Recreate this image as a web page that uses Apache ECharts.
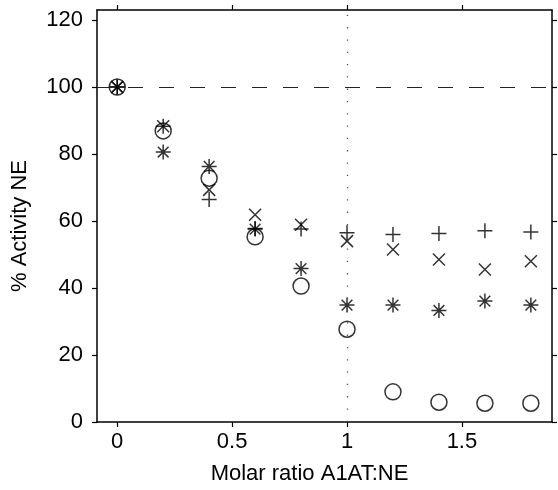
<!DOCTYPE html>
<html>
<head>
<meta charset="utf-8">
<script src="https://cdn.jsdelivr.net/npm/echarts@6/dist/echarts.min.js"></script>
<style>
  html, body { margin: 0; padding: 0; background: #fff; }
  #chart { width: 558px; height: 490px; }
</style>
</head>
<body>
<div id="chart"></div>
<script>
// Molar ratio of A1AT to NE for each measurement
const molarRatio = [0, 0.2, 0.4, 0.6, 0.8, 1.0, 1.2, 1.4, 1.6, 1.8];

// % residual NE activity, one array per condition (marker)
const plusSeries   = [100, 88.3, 66.4, 57.8, 57.6, 56.5, 56.0, 56.3, 57.1, 56.7];
const crossSeries  = [100, 88.3, 69.3, 61.9, 58.9, 54.0, 51.5, 48.5, 45.5, 48.0];
const starSeries   = [100, 80.6, 76.3, 57.6, 45.8, 34.9, 34.9, 33.3, 36.1, 34.9];
const circleSeries = [100, 86.9, 72.8, 55.3, 40.6, 27.7, 9.0, 5.9, 5.6, 5.6];

// Tick positions / labels
const xTicks = [0, 0.5, 1, 1.5];
const yTicks = [0, 20, 40, 60, 80, 100, 120];

// Reference lines: full activity and equimolar ratio
const fullActivity = 100;
const equimolar = 1;

const FONT = 'Liberation Sans, Arial, sans-serif';

function pairs(ys) {
  return molarRatio.map((x, i) => [x, ys[i]]);
}

const markerStyle = {
  color: 'none',
  borderColor: '#000',
  borderWidth: 1.5
};

const axisLineStyle = { color: '#000', width: 1.5 };

const baseAxisX = {
  type: 'value',
  min: -0.088,
  max: 1.892,
  splitLine: { show: false },
  axisLine: { show: true, onZero: false, lineStyle: axisLineStyle },
  axisTick: { show: true, inside: false, length: 5, customValues: xTicks, lineStyle: { color: '#000', width: 1.2 } }
};
const baseAxisY = {
  type: 'value',
  min: 0,
  max: 123,
  interval: 20,
  splitLine: { show: false },
  axisLine: { show: true, onZero: false, lineStyle: axisLineStyle },
  axisTick: { show: true, inside: false, length: 5, customValues: yTicks, lineStyle: { color: '#000', width: 1.2 } }
};

const chart = echarts.init(document.getElementById('chart'), null, { renderer: 'canvas' });

chart.setOption({
  animation: false,
  backgroundColor: '#fff',
  grid: { left: 97, right: 6, top: 10, bottom: 67, containLabel: false },
  xAxis: [
    Object.assign({}, baseAxisX, {
      position: 'bottom',
      name: 'Molar ratio A1AT:NE',
      nameLocation: 'middle',
      nameGap: 41,
      nameTextStyle: { fontFamily: FONT, fontSize: 22, color: '#000', padding: [0, 30, 0, 0] },
      axisLabel: {
        show: true, customValues: xTicks, margin: 9,
        fontFamily: FONT, fontSize: 22, color: '#000',
        formatter: v => String(v)
      }
    }),
    Object.assign({}, baseAxisX, {
      position: 'top',
      axisLabel: { show: false }
    })
  ],
  yAxis: [
    Object.assign({}, baseAxisY, {
      position: 'left',
      name: '% Activity NE',
      nameLocation: 'middle',
      nameGap: 66,
      nameTextStyle: { fontFamily: FONT, fontSize: 22, color: '#000', padding: [0, 20, 0, 0] },
      axisLabel: {
        show: true, customValues: yTicks, margin: 14,
        fontFamily: FONT, fontSize: 22, color: '#000'
      }
    }),
    Object.assign({}, baseAxisY, {
      position: 'right',
      axisLabel: { show: false }
    })
  ],
  series: [
    {
      name: 'circle',
      type: 'scatter',
      data: pairs(circleSeries),
      symbol: 'circle',
      symbolSize: 16,
      itemStyle: markerStyle,
      silent: true,
      z: 3,
      markLine: {
        silent: true,
        symbol: 'none',
        label: { show: false },
        data: [
          { yAxis: fullActivity, lineStyle: { color: '#222', width: 1.2, type: [15, 16] } },
          { xAxis: equimolar, lineStyle: { color: '#555', width: 1.3, type: [1.3, 11] } }
        ]
      }
    },
    {
      name: 'star',
      type: 'scatter',
      data: pairs(starSeries),
      symbol: 'path://M0,-7L0,7M-7,0L7,0M-5,-5L5,5M-5,5L5,-5',
      symbolSize: 15,
      itemStyle: markerStyle,
      silent: true,
      z: 4
    },
    {
      name: 'cross',
      type: 'scatter',
      data: pairs(crossSeries),
      symbol: 'path://M-5,-5L5,5M-5,5L5,-5',
      symbolSize: 12,
      itemStyle: markerStyle,
      silent: true,
      z: 4
    },
    {
      name: 'plus',
      type: 'scatter',
      data: pairs(plusSeries),
      symbol: 'path://M0,-7L0,7M-7,0L7,0',
      symbolSize: 15,
      itemStyle: markerStyle,
      silent: true,
      z: 4
    }
  ]
});
</script>
</body>
</html>
